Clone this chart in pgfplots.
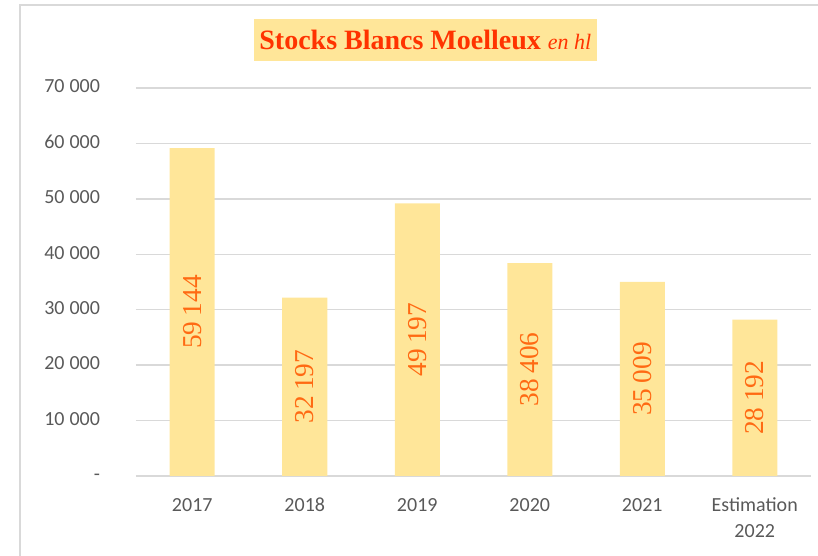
\documentclass[border=0pt]{standalone}
\usepackage{fontspec}
\setmainfont{Carlito}
\newfontfamily\serif{Liberation Serif}
\usepackage{pgfplots}
\usepackage{pgfplotstable}
\pgfplotsset{compat=1.18}

\definecolor{barfill}{HTML}{FFE699}
\definecolor{labelorange}{HTML}{FF6A13}
\definecolor{titlered}{HTML}{FF3300}
\definecolor{gridgray}{HTML}{D9D9D9}
\definecolor{ticktext}{HTML}{595959}

% stocks, hl
\pgfplotstableread{
x v
0 59144
1 32197
2 49197
3 38406
4 35009
5 28192
}\stocks

\def\ks{\hspace{0.25em}}

\begin{document}
\begin{tikzpicture}
% chart frame (left and top edges only are in the picture)
\draw[gridgray, line width=1.5pt] (-87pt,-62pt) -- (-87pt,353.25pt) -- (514pt,353.25pt);

\begin{axis}[
  at={(0,0)}, anchor=south west,
  scale only axis, width=506.25pt, height=291pt,
  xmin=-0.5, xmax=5.5, ymin=0, ymax=70000,
  axis x line*=bottom, axis y line*=left,
  x axis line style={gridgray, line width=1.1pt, -},
  y axis line style={draw=none},
  major tick length=0pt,
  scaled y ticks=false,
  ymajorgrids, grid style={gridgray, line width=1.1pt},
  xtick={0,...,5},
  xticklabels={2017,2018,2019,2020,2021,{Estimation\\2022}},
  ytick={0,10000,...,70000},
  yticklabels={-,10\ks000,20\ks000,30\ks000,40\ks000,50\ks000,60\ks000,70\ks000},
  typeset ticklabels with strut,
  xticklabel style={align=center, text=ticktext, font=\fontsize{15}{20}\selectfont, yshift=-8.75pt},
  yticklabel style={text=ticktext, font=\fontsize{15}{18}\selectfont, xshift=-23.5pt},
  clip=false,
]
\addplot[ybar, bar width=33.75pt, fill=barfill, draw=none] table[x=x, y=v]{\stocks};
\addplot[draw=none, mark=none,
  point meta=\thisrow{v},
  nodes near coords={\pgfmathprintnumber[1000 sep={\hspace{0.2em}}, assume math mode=true]{\pgfplotspointmeta}},
  nodes near coords align=center,
  every node near coord/.append style={rotate=90, anchor=center, text=labelorange,
    font=\serif\fontsize{20.5}{20.5}\selectfont}]
  table[x=x, y expr=\thisrow{v}/2]{\stocks};
\end{axis}

\node[fill=barfill, minimum width=257pt, minimum height=31.5pt, inner sep=0pt, text=titlered]
  at (217pt,327pt) {\serif\bfseries\fontsize{21}{21}\selectfont Stocks Blancs Moelleux
  \mdseries\itshape\fontsize{16.5}{16.5}\selectfont en hl};

\pgfresetboundingbox
\path[use as bounding box] (-102pt,-60pt) rectangle (511.5pt,357pt);
\end{tikzpicture}
\end{document}
